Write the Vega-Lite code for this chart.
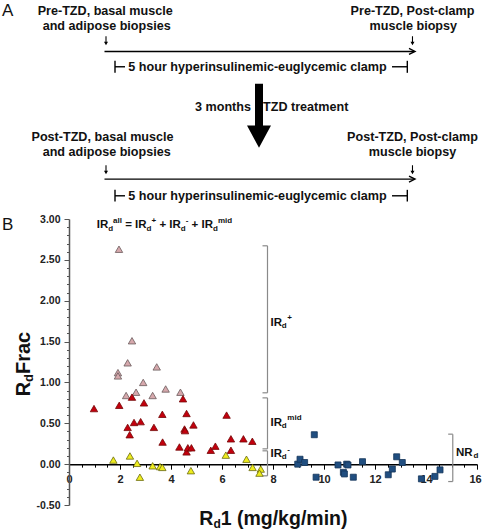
{
  "$schema": "https://vega.github.io/schema/vega-lite/v6.json",
  "autosize": {"type": "none"},
  "width": 408,
  "height": 286,
  "padding": {"left": 69, "top": 219, "right": 5, "bottom": 25},
  "background": "white",
  "config": {"view": {"stroke": null}},
  "datasets": {
    "pts": [
      {"x": 1.96, "y": 2.63, "g": "plus"}, {"x": 2.47, "y": 1.51, "g": "plus"}, {"x": 2.30, "y": 1.24, "g": "plus"},
      {"x": 1.92, "y": 1.12, "g": "plus"}, {"x": 1.92, "y": 1.08, "g": "plus"}, {"x": 3.44, "y": 1.19, "g": "plus"},
      {"x": 2.91, "y": 1.00, "g": "plus"}, {"x": 3.79, "y": 0.92, "g": "plus"}, {"x": 4.37, "y": 0.88, "g": "plus"},
      {"x": 2.24, "y": 0.84, "g": "plus"}, {"x": 2.63, "y": 0.88, "g": "plus"}, {"x": 3.28, "y": 0.84, "g": "plus"},
      {"x": 0.98, "y": 0.68, "g": "mid"}, {"x": 1.97, "y": 0.72, "g": "mid"}, {"x": 2.47, "y": 0.82, "g": "mid"},
      {"x": 2.94, "y": 0.75, "g": "mid"}, {"x": 4.47, "y": 0.80, "g": "mid"}, {"x": 2.30, "y": 0.45, "g": "mid"},
      {"x": 2.55, "y": 0.51, "g": "mid"}, {"x": 2.81, "y": 0.52, "g": "mid"}, {"x": 2.38, "y": 0.36, "g": "mid"},
      {"x": 3.33, "y": 0.45, "g": "mid"}, {"x": 3.66, "y": 0.61, "g": "mid"}, {"x": 3.67, "y": 0.27, "g": "mid"},
      {"x": 4.61, "y": 0.62, "g": "mid"}, {"x": 4.53, "y": 0.43, "g": "mid"}, {"x": 4.55, "y": 0.41, "g": "mid"},
      {"x": 4.88, "y": 0.48, "g": "mid"}, {"x": 4.33, "y": 0.21, "g": "mid"}, {"x": 4.61, "y": 0.15, "g": "mid"},
      {"x": 4.66, "y": 0.20, "g": "mid"}, {"x": 4.80, "y": 0.20, "g": "mid"}, {"x": 5.56, "y": 0.17, "g": "mid"},
      {"x": 5.74, "y": 0.22, "g": "mid"}, {"x": 6.18, "y": 0.60, "g": "mid"}, {"x": 6.35, "y": 0.31, "g": "mid"},
      {"x": 6.35, "y": 0.17, "g": "mid"}, {"x": 6.84, "y": 0.31, "g": "mid"}, {"x": 7.19, "y": 0.28, "g": "mid"},
      {"x": 1.74, "y": 0.05, "g": "minus"}, {"x": 2.39, "y": 0.10, "g": "minus"}, {"x": 2.67, "y": 0.01, "g": "minus"},
      {"x": 2.78, "y": -0.16, "g": "minus"}, {"x": 3.28, "y": -0.02, "g": "minus"}, {"x": 3.57, "y": -0.03, "g": "minus"},
      {"x": 3.66, "y": -0.04, "g": "minus"}, {"x": 4.78, "y": -0.08, "g": "minus"}, {"x": 6.15, "y": 0.11, "g": "minus"},
      {"x": 6.96, "y": 0.06, "g": "minus"}, {"x": 7.20, "y": -0.04, "g": "minus"}, {"x": 7.52, "y": -0.06, "g": "minus"},
      {"x": 7.47, "y": -0.11, "g": "minus"},
      {"x": 9.62, "y": 0.36, "g": "nr"}, {"x": 8.97, "y": 0.00, "g": "nr"}, {"x": 9.06, "y": 0.06, "g": "nr"},
      {"x": 9.24, "y": 0.02, "g": "nr"}, {"x": 9.69, "y": -0.16, "g": "nr"}, {"x": 10.55, "y": -0.01, "g": "nr"},
      {"x": 10.76, "y": -0.10, "g": "nr"}, {"x": 10.80, "y": -0.12, "g": "nr"}, {"x": 10.89, "y": 0.00, "g": "nr"},
      {"x": 10.94, "y": -0.01, "g": "nr"}, {"x": 11.15, "y": -0.16, "g": "nr"}, {"x": 11.51, "y": 0.03, "g": "nr"},
      {"x": 12.52, "y": -0.13, "g": "nr"}, {"x": 12.68, "y": -0.06, "g": "nr"}, {"x": 12.85, "y": 0.09, "g": "nr"},
      {"x": 13.07, "y": 0.02, "g": "nr"}, {"x": 13.82, "y": -0.18, "g": "nr"}, {"x": 14.35, "y": -0.15, "g": "nr"},
      {"x": 14.55, "y": -0.07, "g": "nr"}
    ],
    "segs": [
      {"x": 7.784, "y": 2.672, "x2": 7.784, "y2": 0.873, "k": "br"},
      {"x": 7.588, "y": 2.672, "x2": 7.784, "y2": 2.672, "k": "br"},
      {"x": 7.588, "y": 0.873, "x2": 7.784, "y2": 0.873, "k": "br"},
      {"x": 7.784, "y": 0.811, "x2": 7.784, "y2": 0.187, "k": "br"},
      {"x": 7.588, "y": 0.811, "x2": 7.784, "y2": 0.811, "k": "br"},
      {"x": 7.588, "y": 0.187, "x2": 7.784, "y2": 0.187, "k": "br"},
      {"x": 7.784, "y": 0.163, "x2": 7.784, "y2": -0.143, "k": "br"},
      {"x": 7.588, "y": 0.163, "x2": 7.784, "y2": 0.163, "k": "br"},
      {"x": 7.588, "y": -0.143, "x2": 7.784, "y2": -0.143, "k": "br"},
      {"x": 15.05, "y": 0.367, "x2": 15.05, "y2": -0.213, "k": "br"},
      {"x": 14.87, "y": 0.367, "x2": 15.05, "y2": 0.367, "k": "br"},
      {"x": 14.87, "y": -0.213, "x2": 15.05, "y2": -0.213, "k": "br"},
      {"x": 1.392, "y": 5.050, "x2": 13.53, "y2": 5.050, "k": "dia"},
      {"x": 1.804, "y": 4.936, "x2": 1.804, "y2": 4.789, "k": "dia"},
      {"x": 1.804, "y": 4.863, "x2": 2.196, "y2": 4.863, "k": "dia"},
      {"x": 12.667, "y": 4.863, "x2": 13.267, "y2": 4.863, "k": "dia"},
      {"x": 13.267, "y": 4.936, "x2": 13.267, "y2": 4.789, "k": "dia"},
      {"x": 1.392, "y": 3.488, "x2": 13.53, "y2": 3.488, "k": "dia"},
      {"x": 1.804, "y": 3.357, "x2": 1.804, "y2": 3.214, "k": "dia"},
      {"x": 1.804, "y": 3.284, "x2": 2.196, "y2": 3.284, "k": "dia"},
      {"x": 12.667, "y": 3.284, "x2": 13.267, "y2": 3.284, "k": "dia"},
      {"x": 13.267, "y": 3.357, "x2": 13.267, "y2": 3.214, "k": "dia"}
    ],
    "arr": [
      {"x": 7.451, "y": 4.263, "k": "big"},
      {"x": 1.451, "y": 5.181, "k": "small"},
      {"x": 13.47, "y": 5.181, "k": "small"},
      {"x": 1.451, "y": 3.602, "k": "small"},
      {"x": 13.47, "y": 3.602, "k": "small"},
      {"x": 13.451, "y": 5.050, "k": "chev"},
      {"x": 13.451, "y": 3.488, "k": "chev"}
    ],
    "txt": [
      {"x": 1.42, "y": 5.499, "t": "Pre-TZD, basal muscle", "k": "pa"},
      {"x": 1.478, "y": 5.319, "t": "and adipose biopsies", "k": "pa"},
      {"x": 13.471, "y": 5.499, "t": "Pre-TZD, Post-clamp", "k": "pa"},
      {"x": 13.502, "y": 5.319, "t": "muscle biopsy", "k": "pa"},
      {"x": 7.392, "y": 4.814, "t": "5 hour hyperinsulinemic-euglycemic clamp", "k": "pa"},
      {"x": 1.314, "y": 3.955, "t": "Post-TZD, basal muscle", "k": "pa"},
      {"x": 1.478, "y": 3.770, "t": "and adipose biopsies", "k": "pa"},
      {"x": 13.471, "y": 3.955, "t": "Post-TZD, Post-clamp", "k": "pa"},
      {"x": 13.471, "y": 3.770, "t": "muscle biopsy", "k": "pa"},
      {"x": 7.392, "y": 3.235, "t": "5 hour hyperinsulinemic-euglycemic clamp", "k": "pa"},
      {"x": 7.137, "y": 4.316, "t": "3 months", "k": "par"},
      {"x": 7.608, "y": 4.316, "t": "TZD treatment", "k": "pal"},
      {"x": -2.627, "y": 5.487, "t": "A", "k": "let"},
      {"x": -2.627, "y": 2.862, "t": "B", "k": "let"},
      {"x": 1.086, "y": 2.890, "t": "IR", "k": "lab"},
      {"x": 1.537, "y": 2.859, "t": "d", "k": "labs"},
      {"x": 1.729, "y": 2.952, "t": "all", "k": "labs"},
      {"x": 2.204, "y": 2.890, "t": "= IR", "k": "lab"},
      {"x": 3.043, "y": 2.859, "t": "d", "k": "labs"},
      {"x": 3.235, "y": 2.952, "t": "+", "k": "labs"},
      {"x": 3.545, "y": 2.890, "t": "+ IR", "k": "lab"},
      {"x": 4.384, "y": 2.859, "t": "d", "k": "labs"},
      {"x": 4.576, "y": 2.952, "t": "-", "k": "labs"},
      {"x": 4.808, "y": 2.890, "t": "+ IR", "k": "lab"},
      {"x": 5.647, "y": 2.859, "t": "d", "k": "labs"},
      {"x": 5.839, "y": 2.952, "t": "mid", "k": "labs"},
      {"x": 7.906, "y": 1.693, "t": "IR", "k": "lab"},
      {"x": 8.341, "y": 1.668, "t": "d", "k": "labs"},
      {"x": 8.561, "y": 1.763, "t": "+", "k": "labs"},
      {"x": 7.906, "y": 0.469, "t": "IR", "k": "lab"},
      {"x": 8.341, "y": 0.448, "t": "d", "k": "labs"},
      {"x": 8.561, "y": 0.536, "t": "mid", "k": "labs"},
      {"x": 7.906, "y": 0.086, "t": "IR", "k": "lab"},
      {"x": 8.341, "y": 0.065, "t": "d", "k": "labs"},
      {"x": 8.561, "y": 0.151, "t": "-", "k": "labs"},
      {"x": 15.176, "y": 0.102, "t": "NR", "k": "lab"},
      {"x": 15.86, "y": 0.073, "t": "d", "k": "labs"},
      {"x": 5.106, "y": -0.749, "t": "R", "k": "xt"},
      {"x": 5.663, "y": -0.786, "t": "d", "k": "xts"},
      {"x": 5.949, "y": -0.749, "t": "1 (mg/kg/min)", "k": "xt"},
      {"x": -1.529, "y": 0.830, "t": "R", "k": "yt"},
      {"x": -1.431, "y": 1.006, "t": "d", "k": "yts"},
      {"x": -1.529, "y": 1.103, "t": "Frac", "k": "yt"}
    ]
  },
  "encoding": {
    "x": {
      "field": "x", "type": "quantitative",
      "scale": {"domain": [0, 16], "nice": false, "zero": false},
      "axis": {
        "orient": "bottom", "offset": -40.857, "title": null, "grid": false,
        "values": [0,0.5,1,1.5,2,2.5,3,3.5,4,4.5,5,5.5,6,6.5,7,7.5,8,8.5,9,9.5,10,10.5,11,11.5,12,12.5,13,13.5,14,14.5,15,15.5,16],
        "labelExpr": "datum.value % 2 === 0 ? format(datum.value, 'd') : ''",
        "labelOverlap": false, "labelBound": false, "labelFlush": false,
        "labelOffset": {"condition": {"test": "datum.value === 16", "value": -2}, "value": 0},
        "tickSize": {"condition": {"test": "datum.value % 2 === 0", "value": 5}, "value": 3},
        "tickColor": "#000", "tickWidth": 1,
        "domainColor": "#000", "domainWidth": 1.5,
        "labelFont": "Liberation Sans", "labelFontWeight": "bold", "labelFontSize": 11, "labelColor": "#222",
        "labelPadding": 4
      }
    },
    "y": {
      "field": "y", "type": "quantitative",
      "scale": {"domain": [-0.5, 3], "nice": false, "zero": false},
      "axis": {
        "title": null, "grid": false,
        "values": [-0.5,-0.4,-0.3,-0.2,-0.1,0,0.1,0.2,0.3,0.4,0.5,0.6,0.7,0.8,0.9,1,1.1,1.2,1.3,1.4,1.5,1.6,1.7,1.8,1.9,2,2.1,2.2,2.3,2.4,2.5,2.6,2.7,2.8,2.9,3],
        "labelExpr": "abs(datum.value*2 - round(datum.value*2)) < 0.001 ? replace(format(datum.value, '.2f'), '\u2212', '-') : ''",
        "labelOverlap": false, "labelBound": false, "labelFlush": false,
        "tickSize": {"condition": {"test": "abs(datum.value*2 - round(datum.value*2)) < 0.001", "value": 5}, "value": 2.5},
        "tickColor": "#555", "tickWidth": 1,
        "domainColor": "#555", "domainWidth": 1.5,
        "labelFont": "Liberation Sans", "labelFontWeight": "bold", "labelFontSize": 10.5, "labelColor": "#222",
        "labelPadding": 4
      }
    }
  },
  "layer": [
    {
      "data": {"name": "segs"},
      "transform": [{"filter": "datum.k === 'br'"}],
      "mark": {"type": "rule", "color": "#8a8a8a", "strokeWidth": 1.2},
      "encoding": {"x2": {"field": "x2"}, "y2": {"field": "y2"}}
    },
    {
      "data": {"name": "segs"},
      "transform": [{"filter": "datum.k === 'dia'"}],
      "mark": {"type": "rule", "color": "#000", "strokeWidth": 1.4},
      "encoding": {"x2": {"field": "x2"}, "y2": {"field": "y2"}}
    },
    {
      "data": {"name": "arr"},
      "transform": [{"filter": "datum.k === 'big'"}],
      "mark": {"type": "point", "filled": true, "opacity": 1, "color": "#000", "size": 4096,
               "shape": "M-0.125,-1L0.125,-1L0.125,0.3L0.375,0.3L0,1L-0.375,0.3L-0.125,0.3Z"}
    },
    {
      "data": {"name": "arr"},
      "transform": [{"filter": "datum.k === 'small'"}],
      "mark": {"type": "point", "filled": true, "opacity": 1, "color": "#000", "size": 81,
               "shape": "M-0.12,-1L0.12,-1L0.12,0.2L0.45,0.2L0,1L-0.45,0.2L-0.12,0.2Z"}
    },
    {
      "data": {"name": "arr"},
      "transform": [{"filter": "datum.k === 'chev'"}],
      "mark": {"type": "point", "filled": false, "opacity": 1, "color": "#000", "strokeWidth": 1.4, "size": 36,
               "shape": "M-1,-1L1,0L-1,1"}
    },
    {
      "data": {"name": "pts"},
      "transform": [{"filter": "datum.g !== 'nr'"}],
      "mark": {"type": "point", "shape": "triangle-up", "filled": true, "opacity": 1, "size": 55, "strokeWidth": 0.8},
      "encoding": {
        "fill": {"field": "g", "type": "nominal", "legend": null,
                 "scale": {"domain": ["plus", "mid", "minus"], "range": ["#d6a8ac", "#c3000d", "#eeec1e"]}},
        "stroke": {"field": "g", "type": "nominal", "legend": null,
                   "scale": {"domain": ["plus", "mid", "minus"], "range": ["#6a5a5c", "#740808", "#6a6a10"]}}
      }
    },
    {
      "data": {"name": "pts"},
      "transform": [{"filter": "datum.g === 'nr'"}],
      "mark": {"type": "point", "shape": "square", "filled": true, "opacity": 1, "size": 36,
               "fill": "#204e80", "stroke": "#143559", "strokeWidth": 0.8}
    },
    {
      "data": {"name": "txt"},
      "transform": [{"filter": "datum.k === 'pa'"}],
      "mark": {"type": "text", "font": "Liberation Sans", "fontWeight": "bold", "fontSize": 12.6, "align": "center", "baseline": "alphabetic", "color": "#111"},
      "encoding": {"text": {"field": "t"}}
    },
    {
      "data": {"name": "txt"},
      "transform": [{"filter": "datum.k === 'par'"}],
      "mark": {"type": "text", "font": "Liberation Sans", "fontWeight": "bold", "fontSize": 12.6, "align": "right", "baseline": "alphabetic", "color": "#111"},
      "encoding": {"text": {"field": "t"}}
    },
    {
      "data": {"name": "txt"},
      "transform": [{"filter": "datum.k === 'pal'"}],
      "mark": {"type": "text", "font": "Liberation Sans", "fontWeight": "bold", "fontSize": 12.6, "align": "left", "baseline": "alphabetic", "color": "#111"},
      "encoding": {"text": {"field": "t"}}
    },
    {
      "data": {"name": "txt"},
      "transform": [{"filter": "datum.k === 'let'"}],
      "mark": {"type": "text", "font": "Liberation Sans", "fontWeight": "normal", "fontSize": 17, "align": "left", "baseline": "alphabetic", "color": "#111"},
      "encoding": {"text": {"field": "t"}}
    },
    {
      "data": {"name": "txt"},
      "transform": [{"filter": "datum.k === 'lab'"}],
      "mark": {"type": "text", "font": "Liberation Sans", "fontWeight": "bold", "fontSize": 11.5, "align": "left", "baseline": "alphabetic", "color": "#111"},
      "encoding": {"text": {"field": "t"}}
    },
    {
      "data": {"name": "txt"},
      "transform": [{"filter": "datum.k === 'labs'"}],
      "mark": {"type": "text", "font": "Liberation Sans", "fontWeight": "bold", "fontSize": 8, "align": "left", "baseline": "alphabetic", "color": "#111"},
      "encoding": {"text": {"field": "t"}}
    },
    {
      "data": {"name": "txt"},
      "transform": [{"filter": "datum.k === 'xt'"}],
      "mark": {"type": "text", "font": "Liberation Sans", "fontWeight": "bold", "fontSize": 19.5, "align": "left", "baseline": "alphabetic", "color": "#111"},
      "encoding": {"text": {"field": "t"}}
    },
    {
      "data": {"name": "txt"},
      "transform": [{"filter": "datum.k === 'xts'"}],
      "mark": {"type": "text", "font": "Liberation Sans", "fontWeight": "bold", "fontSize": 12, "align": "left", "baseline": "alphabetic", "color": "#111"},
      "encoding": {"text": {"field": "t"}}
    },
    {
      "data": {"name": "txt"},
      "transform": [{"filter": "datum.k === 'yt'"}],
      "mark": {"type": "text", "font": "Liberation Sans", "fontWeight": "bold", "fontSize": 20, "angle": 270, "align": "left", "baseline": "alphabetic", "color": "#111"},
      "encoding": {"text": {"field": "t"}}
    },
    {
      "data": {"name": "txt"},
      "transform": [{"filter": "datum.k === 'yts'"}],
      "mark": {"type": "text", "font": "Liberation Sans", "fontWeight": "bold", "fontSize": 13, "angle": 270, "align": "left", "baseline": "alphabetic", "color": "#111"},
      "encoding": {"text": {"field": "t"}}
    }
  ]
}
